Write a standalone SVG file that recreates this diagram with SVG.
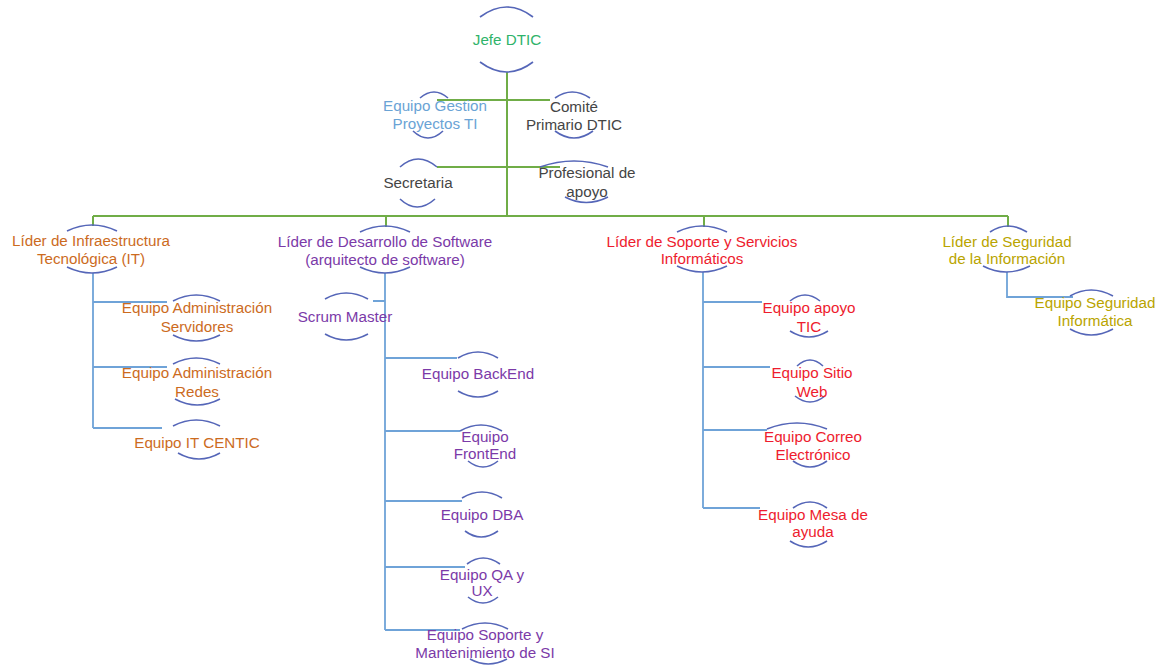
<svg xmlns="http://www.w3.org/2000/svg" width="1162" height="666" viewBox="0 0 1162 666">
<style>
text{font-family:"Liberation Sans",Arial,sans-serif;font-size:15.2px;text-anchor:middle}
.arc{fill:none;stroke:#5566b8;stroke-width:1.6}
.g{stroke:#70ad47;stroke-width:2;fill:none}
.b{stroke:#6fa3d8;stroke-width:1.8;fill:none}
.c0{fill:#2fb36a}.c1{fill:#6aa3d5}.c2{fill:#454545}.c3{fill:#cc6b1e}.c4{fill:#7b3aa8}.c5{fill:#ee1c2e}.c6{fill:#b9a400}
</style>
<rect width="1162" height="666" fill="#ffffff"/>
<g id="connectors">
<path class="g" d="M507 72V216M437 100H550M437 167H560M93 216H1008M93 216V226M386 216V227M704 216V227M1008 216V227"/>
<path class="b" d="M93 273V428M93 302H167M93 367H167M93 428H162"/>
<path class="b" d="M385 273V630M373 301H385M385 358H457M385 431H460M385 501H462M385 567H465M385 630H460"/>
<path class="b" d="M703 272V508M703 302H762M703 367H770M703 430H767M703 508H760"/>
<path class="b" d="M1007 272V297H1073"/>
</g>
<g id="n-jefe"><path class="arc" d="M480 17Q507 -3 533 17M480 62Q507 82 533 62"/><text class="c0" x="507" y="45">Jefe DTIC</text></g>
<g id="n-gestion"><path class="arc" d="M420 98Q434 86 448 98M413 131Q428 145 443 131"/><text class="c1" x="435" y="111">Equipo Gestion</text><text class="c1" x="435" y="129">Proyectos TI</text></g>
<g id="n-comite"><path class="arc" d="M555 98Q572 86 590 98M555 131Q574 145 593 131"/><text class="c2" x="574" y="112">Comité</text><text class="c2" x="574" y="130">Primario DTIC</text></g>
<g id="n-secretaria"><path class="arc" d="M400 167Q418 151 437 167M400 199Q417 215 435 199"/><text class="c2" x="418" y="188">Secretaria</text></g>
<g id="n-profesional"><path class="arc" d="M540 167Q574 155 608 167M565 197Q586 208 608 197"/><text class="c2" x="587" y="178">Profesional de</text><text class="c2" x="587" y="197">apoyo</text></g>
<g id="n-infra"><path class="arc" d="M67 231Q92 219 117 231M67 267Q92 279 117 267"/><text class="c3" x="91" y="246">Líder de Infraestructura</text><text class="c3" x="91" y="264">Tecnológica (IT)</text></g>
<g id="n-servidores"><path class="arc" d="M173 301Q196 289 220 301M173 335Q196 347 220 335"/><text class="c3" x="197" y="313">Equipo Administración</text><text class="c3" x="197" y="332">Servidores</text></g>
<g id="n-redes"><path class="arc" d="M173 364Q196 352 220 364M175 399Q197 411 220 399"/><text class="c3" x="197" y="378">Equipo Administración</text><text class="c3" x="197" y="397">Redes</text></g>
<g id="n-centic"><path class="arc" d="M173 426Q196 414 220 426M178 453Q199 465 220 453"/><text class="c3" x="197" y="448">Equipo IT CENTIC</text></g>
<g id="n-desarrollo"><path class="arc" d="M360 232Q385 220 410 232M360 267Q385 279 410 267"/><text class="c4" x="385" y="247">Líder de Desarrollo de Software</text><text class="c4" x="385" y="265">(arquitecto de software)</text></g>
<g id="n-scrum"><path class="arc" d="M325 299Q346 287 368 299M325 334Q346 346 368 334"/><text class="c4" x="345" y="322">Scrum Master</text></g>
<g id="n-backend"><path class="arc" d="M458 358Q478 346 498 358M458 391Q478 403 498 391"/><text class="c4" x="478" y="379">Equipo BackEnd</text></g>
<g id="n-frontend"><path class="arc" d="M460 431Q481 419 502 431M468 461Q483 473 498 461"/><text class="c4" x="485" y="442">Equipo</text><text class="c4" x="485" y="459">FrontEnd</text></g>
<g id="n-dba"><path class="arc" d="M462 498Q482 486 502 498M465 531Q481 543 498 531"/><text class="c4" x="482" y="520">Equipo DBA</text></g>
<g id="n-qa"><path class="arc" d="M467 564Q483 552 500 564M468 597Q483 609 498 597"/><text class="c4" x="482" y="580">Equipo QA y</text><text class="c4" x="482" y="596">UX</text></g>
<g id="n-soportesi"><path class="arc" d="M462 629Q485 617 508 629M470 659Q488 669 507 659"/><text class="c4" x="485" y="640">Equipo Soporte y</text><text class="c4" x="485" y="658">Mantenimiento de SI</text></g>
<g id="n-soporte"><path class="arc" d="M677 232Q702 220 727 232M677 266Q702 278 727 266"/><text class="c5" x="702" y="247">Líder de Soporte y Servicios</text><text class="c5" x="702" y="264">Informáticos</text></g>
<g id="n-apoyotic"><path class="arc" d="M790 301Q805 289 820 301M790 331Q809 343 828 331"/><text class="c5" x="809" y="313">Equipo apoyo</text><text class="c5" x="809" y="332">TIC</text></g>
<g id="n-sitioweb"><path class="arc" d="M797 366Q810 354 823 366M795 396Q810 408 825 396"/><text class="c5" x="812" y="378">Equipo Sitio</text><text class="c5" x="812" y="397">Web</text></g>
<g id="n-correo"><path class="arc" d="M767 429Q797 417 827 429M793 461Q810 473 827 461"/><text class="c5" x="813" y="442">Equipo Correo</text><text class="c5" x="813" y="460">Electrónico</text></g>
<g id="n-mesa"><path class="arc" d="M793 508Q810 496 827 508M790 541Q808 553 827 541"/><text class="c5" x="813" y="520">Equipo Mesa de</text><text class="c5" x="813" y="537">ayuda</text></g>
<g id="n-seguridad"><path class="arc" d="M990 232Q1008 220 1027 232M983 266Q1006 278 1030 266"/><text class="c6" x="1007" y="247">Líder de Seguridad</text><text class="c6" x="1007" y="264">de la Información</text></g>
<g id="n-seginf"><path class="arc" d="M1070 296Q1091 284 1113 296M1070 329Q1091 341 1113 329"/><text class="c6" x="1095" y="308">Equipo Seguridad</text><text class="c6" x="1095" y="326">Informática</text></g>
</svg>
